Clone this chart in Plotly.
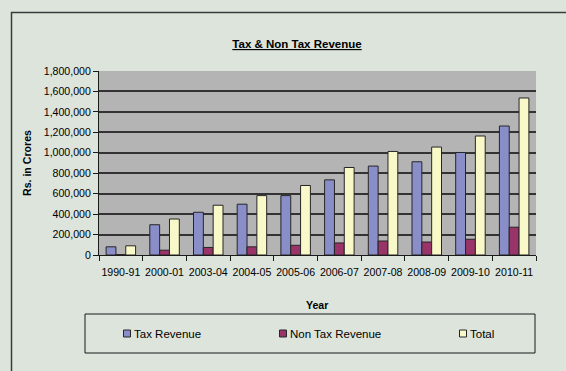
import plotly.graph_objects as go

# Revenue figures, Rs. in Crores
years = ["1990-91", "2000-01", "2003-04", "2004-05", "2005-06",
         "2006-07", "2007-08", "2008-09", "2009-10", "2010-11"]
tax_revenue = [80000, 296000, 418000, 497000, 581000,
               735000, 870000, 912000, 1003000, 1262000]
non_tax_revenue = [4000, 47000, 74000, 80000, 95000,
                   118000, 137000, 127000, 154000, 272000]
total_revenue = [90000, 352000, 487000, 581000, 680000,
                 856000, 1013000, 1056000, 1164000, 1536000]

series_names = ["Tax Revenue", "Non Tax Revenue", "Total"]
series_colors = ["#8a8ec8", "#983468", "#f8f8c8"]
y_ticks = list(range(0, 1800001, 200000))

FONT = "Liberation Sans, Arial, sans-serif"
W, H = 566, 371
ML, MR, MT, MB = 99, 30, 71, 116
PW, PH = W - ML - MR, H - MT - MB


def px_x(p):
    """pixel column -> paper x"""
    return (p - ML) / PW


def px_y(p):
    """pixel row -> paper y"""
    return (H - MB - p) / PH


fig = go.Figure()
for name, vals, col in zip(series_names,
                           [tax_revenue, non_tax_revenue, total_revenue],
                           series_colors):
    fig.add_trace(go.Bar(
        x=years, y=vals, name=name, showlegend=False,
        marker=dict(color=col, line=dict(color="#262626", width=1)),
    ))

shapes = [
    # chart frame
    dict(type="rect", xref="paper", yref="paper",
         x0=px_x(11.5), x1=px_x(575), y0=px_y(380), y1=px_y(12.5),
         line=dict(color="#3a3a3a", width=1.5), fillcolor="rgba(0,0,0,0)",
         layer="below"),
    # legend box
    dict(type="rect", xref="paper", yref="paper",
         x0=px_x(85), x1=px_x(535), y0=px_y(353), y1=px_y(314),
         line=dict(color="#1a1a1a", width=1), fillcolor="rgba(0,0,0,0)"),
]
annotations = [
    dict(text="<b>Year</b>", xref="paper", yref="paper",
         x=px_x(317), y=px_y(305), showarrow=False,
         xanchor="center", yanchor="middle",
         font=dict(family=FONT, size=10.6, color="#000")),
    dict(text="<b>Rs. in Crores</b>", xref="paper", yref="paper",
         x=px_x(27), y=px_y(163), showarrow=False, textangle=-90,
         xanchor="center", yanchor="middle",
         font=dict(family=FONT, size=10.6, color="#000")),
]

# legend entries
legend_sym_x = [127, 283, 463]
for name, col, sx in zip(series_names, series_colors, legend_sym_x):
    shapes.append(dict(type="rect", xref="paper", yref="paper",
                       x0=px_x(sx - 3.5), x1=px_x(sx + 3.5),
                       y0=px_y(337), y1=px_y(330),
                       line=dict(color="#262626", width=1), fillcolor=col))
    annotations.append(dict(text=name, xref="paper", yref="paper",
                            x=px_x(sx + 5), y=px_y(333.5), showarrow=False,
                            xanchor="left", yanchor="middle",
                            font=dict(family=FONT, size=11.5, color="#000")))

fig.update_layout(
    width=W, height=H,
    margin=dict(l=ML, r=MR, t=MT, b=MB, pad=0),
    paper_bgcolor="#dce4dc",
    plot_bgcolor="#b4b4b4",
    font=dict(family=FONT, size=10.6, color="#000"),
    barmode="group", bargap=0.325, bargroupgap=0,
    title=dict(text="<b><u>Tax & Non Tax Revenue</u></b>",
               x=297 / W, y=1 - 44 / H, xanchor="center", yanchor="middle",
               font=dict(family=FONT, size=11.5, color="#000")),
    shapes=shapes, annotations=annotations,
    xaxis=dict(type="category", showgrid=False, showline=True,
               linecolor="#1a1a1a", linewidth=1,
               ticks="outside", tickson="boundaries", ticklen=5,
               tickcolor="#1a1a1a", tickfont=dict(size=10.6),
               tickangle=0, ticklabelstandoff=7),
    yaxis=dict(range=[0, 1800000], tickvals=y_ticks, tickformat=",",
               showgrid=True, gridcolor="#333333", gridwidth=1.5,
               zeroline=False, showline=True, linecolor="#1a1a1a",
               linewidth=1, ticks="outside", ticklen=5, tickcolor="#1a1a1a",
               tickfont=dict(size=10.6)),
)

fig.write_html("out.html")
